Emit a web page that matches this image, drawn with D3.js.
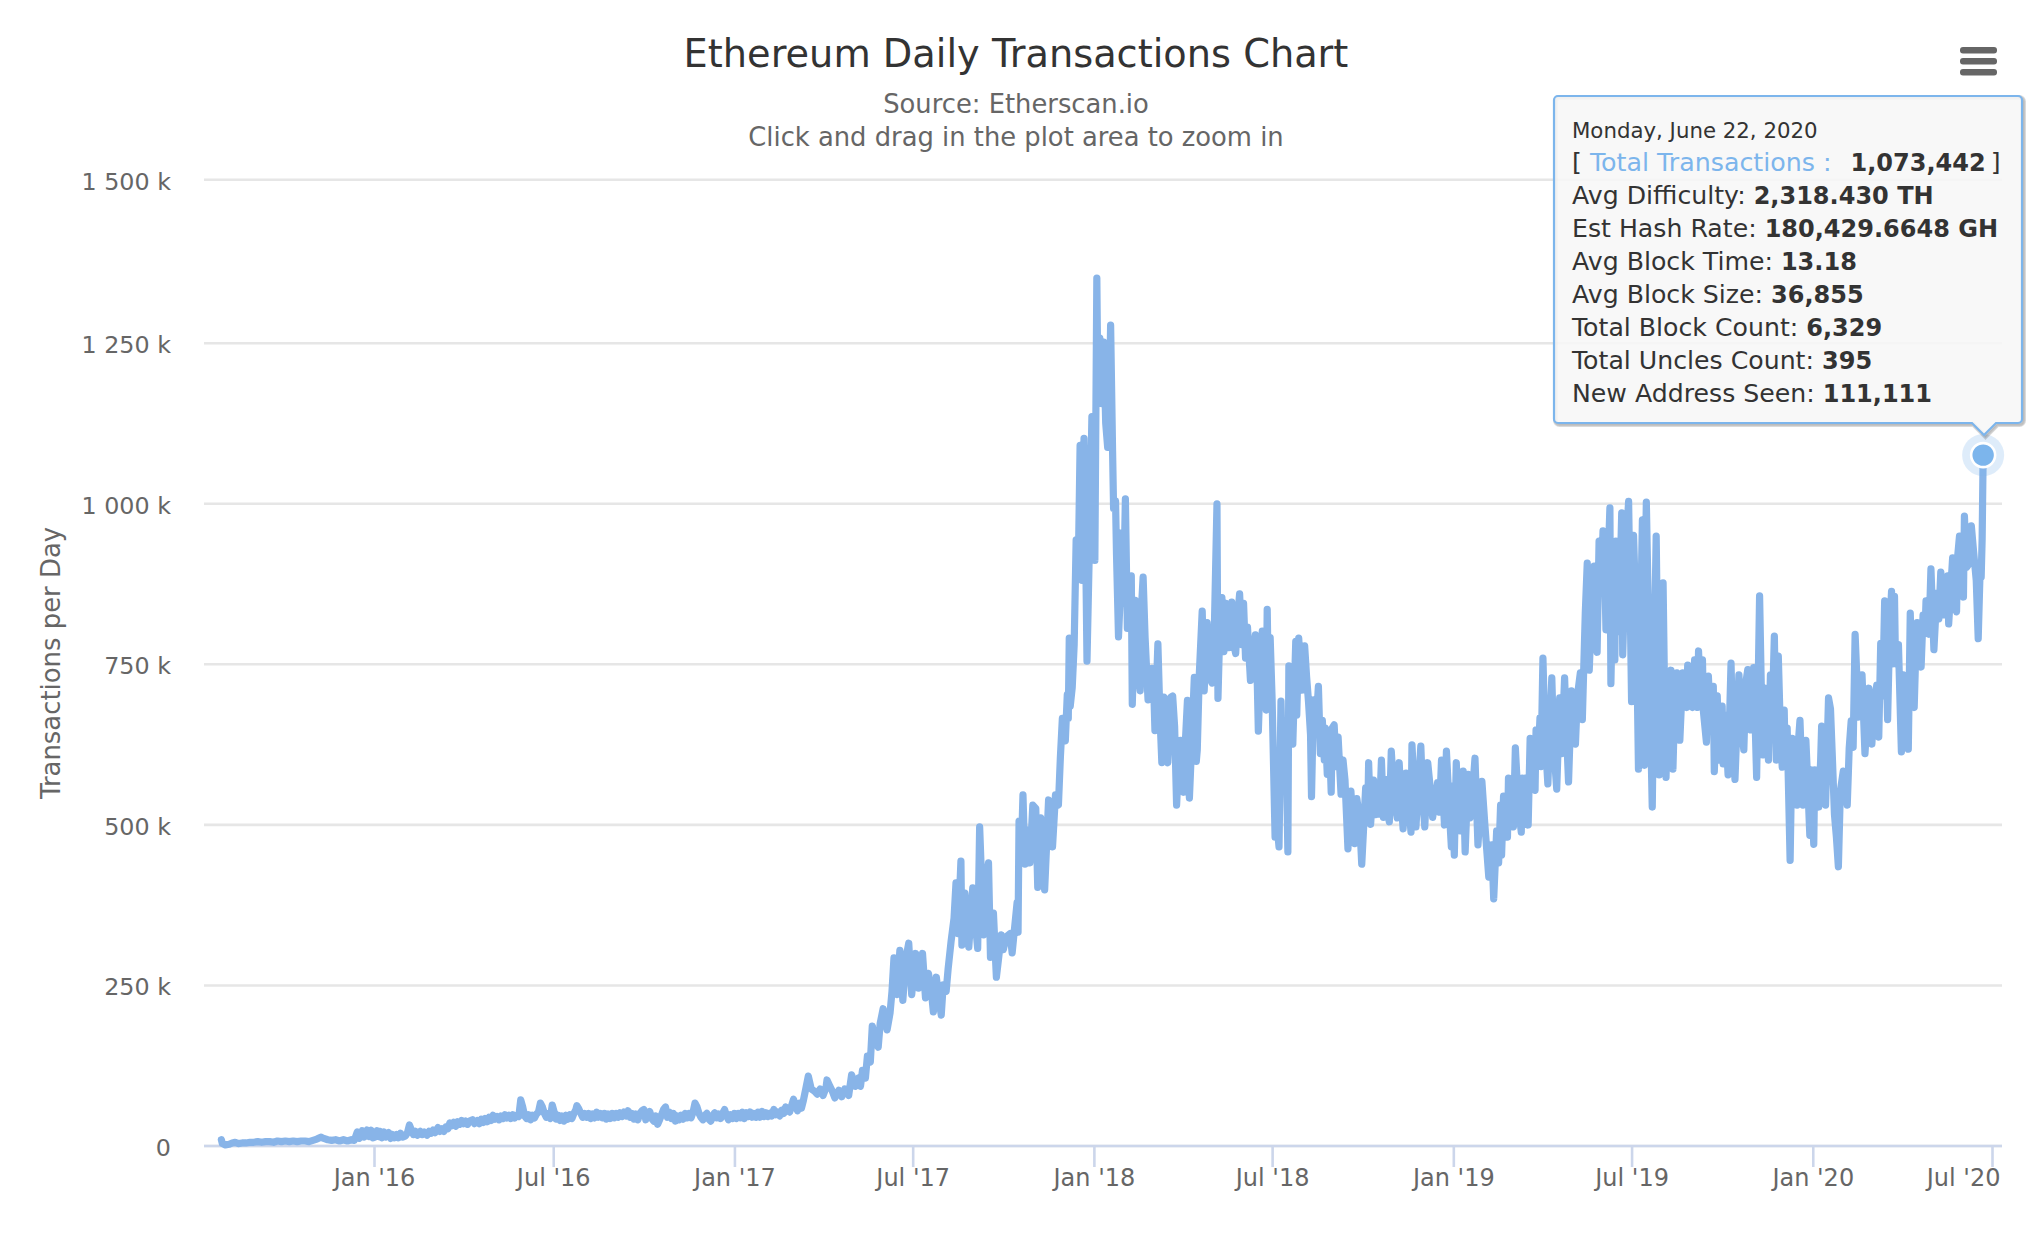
<!DOCTYPE html>
<html>
<head>
<meta charset="utf-8">
<title>Ethereum Daily Transactions Chart</title>
<script src="https://cdnjs.cloudflare.com/ajax/libs/d3/7.8.5/d3.min.js"></script>
<style>
  body { margin: 0; background: #fff; }
  text { font-family: "DejaVu Sans", sans-serif; }
</style>
</head>
<body>
<svg id="chart" width="2040" height="1240"></svg>
<script>
const firstDay = new Date(2015, 6, 30);

// [days since firstDay, thousands of transactions]
const tx2015 = [[0,9],[1,3],[4,1],[8,2],[11,4],[14,5],[17,3],[21,4],[25,4],[29,5],[33,5],[37,6],[41,5],[45,6],[49,6],[53,5],[57,7],[61,6],[65,7],[69,6],[73,7],[77,6],[81,7],[85,7],[89,6],[93,8],[97,10],[101,13],[104,11],[108,9],[112,8],[116,9],[120,7],[124,9],[128,7],[132,9],[135,8],[138,21],[140,11],[143,23],[145,13],[148,24],[150,14],[152,24],[154,12]];

const tx2016 = [[156,13],[158,23],[160,14],[161,22],[163,12],[165,21],[167,13],[170,20],[172,11],[174,17],[176,12],[178,17],[180,12],[182,19],[184,13],[187,15],[189,20],[191,32],[193,24],[195,17],[197,22],[199,16],[202,22],[204,17],[206,21],[209,16],[211,22],[213,19],[215,24],[217,20],[220,28],[222,22],[224,26],[226,22],[228,29],[230,26],[232,35],[234,31],[236,36],[238,30],[240,37],[242,33],[244,39],[246,34],[248,38],[250,33],[252,38],[255,40],[257,34],[260,39],[262,34],[264,41],[266,36],[268,42],[270,37],[272,44],[274,39],[276,47],[278,41],[280,45],[282,40],[284,46],[286,42],[288,48],[290,43],[292,47],[294,42],[296,48],[298,43],[300,47],[302,45],[304,71],[306,60],[308,46],[310,42],[312,48],[314,40],[316,47],[318,43],[320,49],[322,52],[324,66],[326,60],[328,50],[330,44],[332,50],[334,42],[336,63],[338,52],[340,41],[342,47],[344,39],[346,46],[348,38],[350,47],[352,41],[354,48],[356,42],[358,50],[360,56],[361,62],[363,57],[365,50],[367,44],[369,50],[371,44],[373,50],[375,42],[377,49],[379,43],[381,52],[383,44],[385,50],[387,43],[389,50],[391,41],[393,49],[395,42],[397,50],[399,43],[401,50],[403,44],[405,51],[407,45],[409,52],[411,46],[413,54],[415,44],[417,50],[419,41],[421,49],[423,40],[425,50],[427,54],[429,56],[431,40],[433,48],[435,53],[437,42],[439,38],[441,46],[443,33],[445,40],[447,48],[449,56],[451,60],[453,44],[455,52],[457,42],[459,50],[461,38],[463,46],[465,40],[467,47],[469,41],[471,50],[473,43],[475,50],[477,43],[479,52],[481,66],[483,60],[485,50],[487,44],[489,40],[491,47],[493,50],[495,41],[497,38],[499,47],[501,51],[503,43],[505,49],[507,42],[509,50],[511,56],[513,46],[515,40],[517,48],[519,42]];

const tx2017 = [[521,50],[523,42],[525,50],[527,43],[529,52],[531,42],[533,51],[535,45],[537,52],[539,44],[541,50],[543,44],[545,52],[547,44],[549,53],[551,45],[553,51],[555,45],[557,50],[559,46],[561,56],[563,48],[565,52],[567,46],[569,55],[571,50],[573,60],[575,54],[577,52],[579,62],[581,72],[583,62],[585,54],[587,66],[589,58],[591,70],[593,85],[596,108],[599,88],[602,85],[605,80],[608,88],[611,78],[614,90],[615,102],[618,92],[620,86],[623,74],[627,86],[630,76],[633,88],[637,78],[640,110],[644,92],[647,105],[649,92],[651,117],[654,105],[656,139],[659,130],[661,186],[664,165],[667,153],[669,190],[672,213],[674,195],[676,180],[679,206],[681,240],[683,292],[686,235],[689,304],[692,226],[695,290],[698,315],[701,235],[705,299],[708,245],[712,299],[715,230],[718,268],[721,240],[723,208],[726,262],[729,225],[731,203],[733,250],[736,240],[738,275],[741,318],[744,354],[746,409],[748,330],[751,443],[752,312],[755,393],[759,309],[763,401],[766,340],[768,307],[770,496],[774,328],[776,410],[779,440],[781,293],[784,362],[787,262],[792,328],[794,305],[797,325],[801,330],[803,300],[808,378],[809,332],[810,505],[812,440],[814,546],[816,438],[819,491],[821,440],[824,530],[827,525],[829,402],[832,510],[834,450],[836,398],[840,538],[844,465],[847,546],[850,530],[852,605],[854,665],[857,630],[859,702],[860,665],[861,790],[862,684],[864,713],[866,780],[868,943],[870,882],[872,1090],[874,880],[876,1101],[878,887],[879,754],[882,973],[884,1135]];

const tx2018 = [[887,911],[889,1349],[890,1187],[892,1257],[894,1155],[896,1251],[898,1125],[900,1087],[902,1187],[903,1277],[905,1080],[906,992],[908,1004],[909,919],[911,792],[913,866],[914,954],[916,844],[918,1007],[920,805],[922,844],[924,887],[925,687],[928,849],[930,759],[933,708],[934,828],[936,885],[938,791],[941,694],[943,726],[945,743],[947,700],[948,646],[951,781],[953,673],[955,596],[957,698],[959,609],[961,596],[964,698],[966,700],[968,652],[970,530],[972,598],[974,631],[976,566],[977,550],[979,631],[981,693],[983,541],[986,652],[988,729],[990,598],[991,616],[993,732],[996,832],[998,708],[1001,814],[1004,727],[1006,720],[1008,780],[1011,999],[1012,696],[1014,812],[1016,853],[1018,769],[1020,844],[1023,775],[1026,846],[1028,780],[1030,766],[1032,823],[1034,859],[1036,780],[1038,844],[1040,759],[1042,807],[1045,724],[1047,759],[1050,795],[1052,716],[1053,645],[1055,737],[1057,801],[1059,716],[1061,678],[1062,835],[1063,737],[1065,791],[1067,694],[1070,480],[1072,500],[1074,465],[1076,692],[1078,560],[1081,640],[1083,457],[1084,747],[1086,640],[1088,625],[1091,785],[1092,670],[1094,790],[1097,709],[1100,778],[1102,730],[1104,690],[1106,640],[1107,543],[1109,694],[1111,640],[1114,715],[1116,610],[1118,662],[1120,600],[1121,650],[1123,578],[1125,640],[1127,550],[1128,650],[1130,655],[1132,590],[1134,636],[1137,547],[1139,600],[1141,569],[1144,462],[1147,552],[1149,500],[1151,470],[1153,540],[1155,518],[1157,470],[1158,438],[1162,557],[1164,510],[1165,596],[1167,500],[1170,569],[1172,515],[1174,560],[1176,516],[1178,600],[1180,511],[1182,570],[1184,520],[1186,504],[1188,614],[1191,540],[1194,510],[1196,596],[1198,540],[1200,493],[1203,580],[1206,530],[1208,488],[1209,624],[1213,496],[1216,570],[1218,622],[1220,540],[1222,496],[1225,596],[1228,550],[1230,511],[1233,540],[1235,565],[1237,519],[1239,600],[1242,499],[1244,614],[1247,520],[1249,465]];

const tx2019 = [[1250,560],[1252,452],[1254,596],[1256,520],[1258,490],[1261,583],[1263,457],[1266,578],[1268,510],[1270,540],[1273,603],[1276,468],[1280,567],[1283,500],[1287,418],[1290,468],[1292,384],[1295,490],[1297,440],[1299,530],[1300,452],[1302,544],[1304,500],[1306,480],[1307,572],[1309,520],[1312,496],[1314,619],[1317,530],[1320,488],[1321,572],[1323,500],[1324,572],[1327,499],[1329,634],[1332,560],[1334,553],[1335,647],[1337,600],[1339,666],[1340,590],[1342,759],[1344,640],[1347,563],[1349,650],[1351,728],[1353,620],[1356,555],[1359,697],[1361,610],[1364,728],[1366,640],[1368,566],[1371,708],[1373,640],[1375,625],[1377,700],[1380,736],[1382,663],[1383,719],[1385,829],[1387,907],[1389,740],[1391,820],[1394,902],[1396,780],[1397,768],[1399,941],[1401,860],[1403,957],[1405,880],[1406,803],[1408,900],[1410,993],[1411,719],[1413,880],[1415,756],[1416,941],[1419,800],[1422,985],[1423,764],[1425,870],[1427,950],[1429,1003],[1431,800],[1432,691],[1434,950],[1437,800],[1439,586],[1441,800],[1443,974],[1445,592],[1446,900],[1447,1002],[1450,750],[1453,527],[1455,760],[1457,949],[1459,700],[1460,577],[1462,780],[1464,876],[1466,650],[1467,573],[1469,700],[1472,740],[1474,586],[1476,700],[1478,736],[1481,631],[1484,736],[1486,690],[1488,682],[1489,748],[1492,690],[1494,682],[1496,756],[1499,682],[1500,770],[1502,700],[1504,756],[1505,675],[1508,628],[1510,731],[1512,660],[1515,715],[1516,582],[1519,700],[1521,600],[1524,684],[1525,594],[1527,670],[1530,577],[1533,751],[1535,620],[1537,570],[1541,733],[1544,640],[1546,616],[1548,720],[1550,741],[1553,647],[1556,744],[1559,573],[1562,856],[1565,608],[1568,712],[1571,600],[1573,733],[1575,680],[1577,793],[1579,600],[1581,762],[1583,650],[1585,589],[1587,678],[1588,600],[1590,650],[1593,444],[1595,634],[1598,560],[1600,530],[1601,620],[1603,662],[1606,530],[1609,631],[1611,560],[1613,483],[1614,585]];

const tx2020 = [[1617,469],[1618,585],[1622,527],[1624,600],[1625,653],[1627,580],[1629,530],[1632,697],[1634,680],[1636,600],[1638,516],[1640,480],[1642,434],[1644,552],[1647,583],[1649,560],[1651,530],[1653,619],[1655,661],[1657,620],[1659,796],[1661,720],[1662,667],[1664,700],[1666,733],[1669,610],[1673,712],[1676,625],[1678,680],[1681,717],[1683,636],[1685,782],[1687,700],[1689,848],[1692,663],[1694,800],[1696,863],[1697,750],[1699,855],[1700,750],[1703,780],[1706,613],[1708,733],[1710,680],[1713,617],[1715,829],[1717,700],[1719,682],[1721,790],[1722,814],[1724,750],[1726,745],[1728,826],[1730,800],[1731,848],[1734,796],[1736,898],[1739,772],[1742,860],[1744,820],[1746,893],[1749,826],[1753,887],[1754,812],[1758,915],[1760,840],[1762,831],[1763,915],[1765,949],[1767,880],[1769,854],[1770,980],[1772,900],[1774,904],[1777,965],[1779,930],[1782,880],[1784,789],[1786,900],[1787,885],[1788,945],[1789,1073.442]];

const yTicks = [0, 250000, 500000, 750000, 1000000, 1250000, 1500000];
const xTicks = [[2016,0],[2016,6],[2017,0],[2017,6],[2018,0],[2018,6],[2019,0],[2019,6],[2020,0],[2020,6]].map(d => new Date(d[0], d[1], 1));

const subtitleLines = ["Source: Etherscan.io", "Click and drag in the plot area to zoom in"];
const tooltipDate = "Monday, June 22, 2020";
const tooltipLabels = ["Avg Difficulty: ", "Est Hash Rate: ", "Avg Block Time: ", "Avg Block Size: ", "Total Block Count: ", "Total Uncles Count: ", "New Address Seen: "];
const tooltipValues = ["2,318.430 TH", "180,429.6648 GH", "13.18", "36,855", "6,329", "395", "111,111"];

const seriesColor = "#88b4e8";
const data = [...tx2015, ...tx2016, ...tx2017, ...tx2018, ...tx2019, ...tx2020].map(d => ({
  date: d3.timeDay.offset(firstDay, d[0]),
  value: d[1] * 1000
}));

const svg = d3.select("#chart");

const x = d3.scaleTime()
  .domain([new Date(2016, 0, 1), new Date(2020, 6, 1)])
  .range([374, 1992]);

// the top gridline in the picture sits slightly further up than the others
const y = d3.scaleLinear()
  .domain([0, 1250000, 1500000])
  .range([1145.5, 342.7, 179.3]);

const line = d3.line().x(d => x(d.date)).y(d => y(d.value));

// y axis and grid
const yAxis = svg.append("g")
  .attr("transform", "translate(204,0)")
  .call(d3.axisLeft(y)
    .tickValues(yTicks)
    .tickSize(-1798)
    .tickPadding(33)
    .tickFormat(v => v === 0 ? "0" : d3.format(",")(v / 1000).replace(",", " ") + " k"));
yAxis.select(".domain").remove();
yAxis.selectAll(".tick line").attr("stroke", "#e6e6e6").attr("stroke-width", 2.6);
yAxis.selectAll(".tick text")
  .attr("fill", "#666666")
  .attr("font-size", 23.8)
  .attr("dy", "0.41em")
  .style("font-family", '"DejaVu Sans", sans-serif');

// x axis
const xAxis = svg.append("g")
  .attr("transform", "translate(0,1146)")
  .call(d3.axisBottom(x)
    .tickValues(xTicks)
    .tickSize(21)
    .tickSizeOuter(0)
    .tickPadding(2)
    .tickFormat(d3.timeFormat("%b '%y")));
xAxis.select(".domain")
  .attr("d", "M204,0H2002")
  .attr("stroke", "#ccd6eb")
  .attr("stroke-width", 2.6);
xAxis.selectAll(".tick line").attr("stroke", "#ccd6eb").attr("stroke-width", 2.6);
xAxis.selectAll(".tick text")
  .attr("fill", "#666666")
  .attr("font-size", 24)
  .style("font-family", '"DejaVu Sans", sans-serif');
// last label is pushed back inside the plot
xAxis.selectAll(".tick:last-of-type text")
  .attr("text-anchor", "end")
  .attr("x", 8);

// series
svg.append("path")
  .datum(data)
  .attr("d", line)
  .attr("fill", "none")
  .attr("stroke", seriesColor)
  .attr("stroke-width", 7.2)
  .attr("stroke-linejoin", "round")
  .attr("stroke-linecap", "round");

// hovered point
const last = data[data.length - 1];
svg.append("circle")
  .attr("cx", x(last.date)).attr("cy", y(last.value) - 1)
  .attr("r", 21).attr("fill", "#7cb5ec").attr("fill-opacity", 0.25);
svg.append("circle")
  .attr("cx", x(last.date)).attr("cy", y(last.value) - 1)
  .attr("r", 12).attr("fill", "#7cb5ec")
  .attr("stroke", "#fff").attr("stroke-width", 2.6);

// title block
svg.append("text")
  .attr("x", 1016).attr("y", 67)
  .attr("text-anchor", "middle")
  .attr("fill", "#333333")
  .attr("font-size", 38.3)
  .text("Ethereum Daily Transactions Chart");

svg.selectAll(".subtitle")
  .data(subtitleLines)
  .join("text")
  .attr("class", "subtitle")
  .attr("x", 1016)
  .attr("y", (d, i) => 113 + i * 33)
  .attr("text-anchor", "middle")
  .attr("fill", "#666666")
  .attr("font-size", 25.8)
  .text(d => d);

svg.append("text")
  .attr("transform", "translate(60,663) rotate(-90)")
  .attr("text-anchor", "middle")
  .attr("fill", "#666666")
  .attr("font-size", 25.9)
  .text("Transactions per Day");

// hamburger button
svg.selectAll(".menu")
  .data([47, 58, 69])
  .join("rect")
  .attr("class", "menu")
  .attr("x", 1960).attr("y", d => d)
  .attr("width", 37).attr("height", 6.5).attr("rx", 3)
  .attr("fill", "#666666");

// tooltip
const tipPath = "M1558,96H2018a4,4 0 0 1 4,4V419a4,4 0 0 1 -4,4H1996L1984,435L1972,423H1558a4,4 0 0 1 -4,-4V100a4,4 0 0 1 4,-4Z";
const tip = svg.append("g");
[5, 3, 1].forEach(w => {
  tip.append("path")
    .attr("d", tipPath)
    .attr("transform", "translate(1.5,1.5)")
    .attr("fill", "none")
    .attr("stroke", "#000")
    .attr("stroke-opacity", 0.05 * w / 2 + 0.02)
    .attr("stroke-width", w);
});
tip.append("path")
  .attr("d", tipPath)
  .attr("fill", "#f7f7f7")
  .attr("fill-opacity", 0.88)
  .attr("stroke", "#7cb5ec")
  .attr("stroke-width", 2.2);

tip.append("text")
  .attr("x", 1572).attr("y", 138)
  .attr("fill", "#333333")
  .attr("font-size", 21.3)
  .text(tooltipDate);

const firstRow = tip.append("text")
  .attr("x", 1572).attr("y", 171)
  .attr("fill", "#333333")
  .attr("font-size", 25.3);
firstRow.append("tspan").text("[ ");
firstRow.append("tspan").attr("fill", "#7cb5ec").text("Total Transactions : ");
firstRow.append("tspan").attr("font-weight", "bold").attr("font-size", 24).attr("dx", 11).text("1,073,442");
firstRow.append("tspan").attr("dx", -3).text(" ]");

tooltipLabels.forEach((label, i) => {
  const row = tip.append("text")
    .attr("x", 1572).attr("y", 204 + i * 33)
    .attr("fill", "#333333")
    .attr("font-size", 25.2);
  row.append("tspan").text(label);
  row.append("tspan").attr("font-weight", "bold").attr("font-size", 24).text(tooltipValues[i]);
});
</script>
</body>
</html>
